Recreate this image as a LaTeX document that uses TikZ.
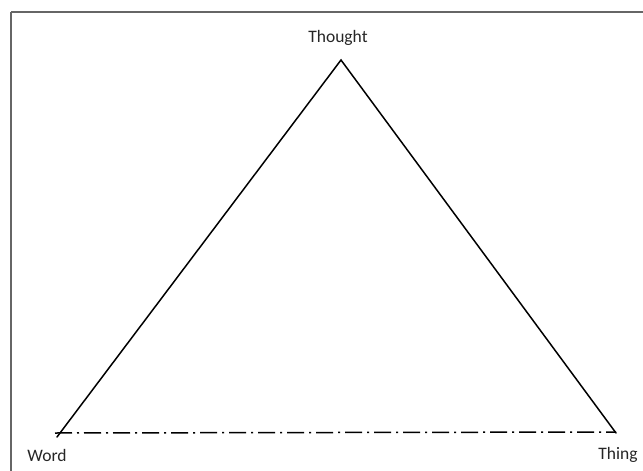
\documentclass[tikz,border=0pt]{standalone}
\usepackage{fontspec}
\setmainfont{Carlito}
\usetikzlibrary{positioning}

\begin{document}
\begin{tikzpicture}[x=1pt,y=-1pt,font=\fontsize{17.5}{21}\selectfont,
l/.style={line width=1.5pt,line cap=round},
dd/.style={line width=1.5pt,dash pattern=on 17pt off 5pt on 2pt off 5pt},
t/.style={inner sep=0pt,text=black!85}]
\useasboundingbox (0,0) rectangle (643,471);
\draw[line width=2pt,black!60] (11,12) -- (660,12) (11,12) -- (11,490);
\coordinate (apex) at (341,60);
\coordinate (wl) at (57,437);
\coordinate (tr) at (616,433);
\node[t](thought) at (338,38){Thought};
\node[t](word) at (47,455){Word};
\node[t](thing) at (618,455){Thing};
\draw[l](wl)--(apex)--(tr);
\draw[dd]([xshift=-2pt,yshift=4pt]wl)--([yshift=1pt]tr);
\end{tikzpicture}
\end{document}
